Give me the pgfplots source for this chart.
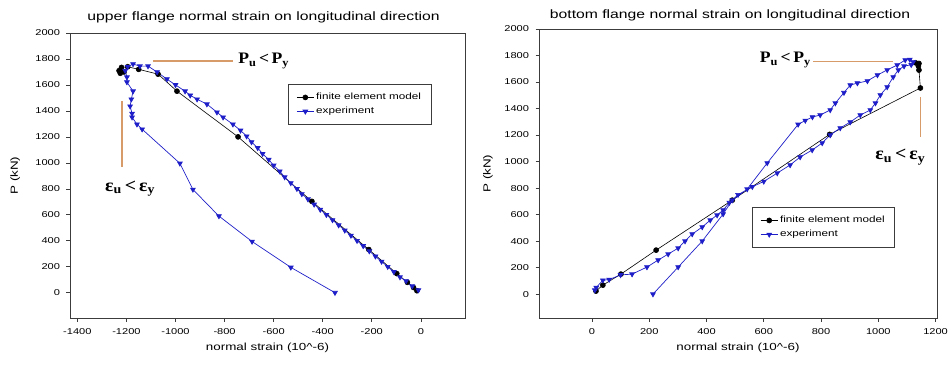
\documentclass[border=0pt]{standalone}
\usepackage{fontspec}
\setmainfont[FakeStretch=1.3]{Liberation Sans}
\newfontfamily\anno[FakeStretch=1.1]{Liberation Serif}
\usepackage{pgfplots}
\pgfplotsset{compat=1.18}
\definecolor{expblue}{RGB}{30,30,200}
\definecolor{annoorange}{RGB}{215,155,105}
\definecolor{axgray}{RGB}{60,60,60}

\pgfplotsset{
 mystyle/.style={
  scale only axis,
  clip=false,
  axis line style={axgray, line width=0.9pt},
  tick align=outside,
  xtick pos=bottom, ytick pos=left,
  major tick length=3.5pt,
  tick style={axgray, line width=0.6pt},
  /pgf/number format/assume math mode=true,
  /pgf/number format/1000 sep={},
  ticklabel style={font=\fontsize{8.5}{10}\selectfont},
  ytick={0,200,...,2000},
  yticklabel style={xshift=-3pt},
  xticklabel style={yshift=-4pt},
  xlabel style={font=\fontsize{10.3}{12}\selectfont, at={(0.5,0)}, anchor=center, yshift=-30pt},
  ylabel style={font=\fontsize{10.3}{12}\selectfont, anchor=center},
  legend style={draw=axgray, line width=0.8pt, font=\fontsize{9}{11}\selectfont, inner xsep=8pt, inner ysep=7pt, row sep=2pt},
  legend cell align=left,
 },
 femstyle/.style={black, line width=0.6pt, mark=*, mark size=2.5pt, mark options={solid, fill=black}},
 expstyle/.style={expblue, line width=0.7pt, mark=triangle*, mark size=2.7pt, mark options={solid, fill=expblue, rotate=180}},
}

\begin{document}
\begin{tikzpicture}[x=1pt,y=1pt]
\path[use as bounding box] (0,0) rectangle (950,370);

% ---------------- left axis ----------------
\begin{axis}[mystyle,
  at={(70pt,52pt)}, anchor=south west,
  width=395pt, height=285pt,
  xmin=-1430, xmax=180, ymin=-195, ymax=2000,
  xtick={-1400,-1200,...,0},
  xlabel={normal strain (10\^{}-6)},
  ylabel={P (kN)},
  ylabel style={at={(rel axis cs:-0.139,0.5)}},
  legend style={at={(rel axis cs:0.552,0.821)}, anchor=north west},
]
\addplot[femstyle] coordinates {
(-16,15) (-30,40) (-55,80) (-98,147) (-212,332) (-444,703) (-745,1200)
(-994,1552) (-1071,1683) (-1150,1720) (-1195,1740) (-1220,1735)
(-1230,1710) (-1225,1690) (-1210,1700)
};
\addlegendentry{finite element model}
\addplot[expstyle] coordinates {
(-10,20) (-35,50) (-60,90) (-85,120) (-110,160) (-135,200) (-160,240)
(-185,280) (-210,320) (-235,360) (-260,400) (-285,440) (-310,480)
(-335,520) (-360,560) (-385,600) (-410,640) (-435,680) (-460,720)
(-485,760) (-505,800) (-530,845) (-555,890) (-575,935) (-600,980)
(-620,1025) (-645,1070) (-665,1115) (-690,1160) (-710,1205) (-735,1250)
(-766,1297) (-806,1351) (-831,1390) (-872,1452) (-912,1490) (-940,1520)
(-961,1552) (-1000,1600) (-1035,1645) (-1075,1699) (-1112,1745)
(-1145,1745) (-1173,1761) (-1195,1740) (-1205,1710) (-1198,1660)
(-1198,1622) (-1173,1552) (-1180,1490) (-1185,1436) (-1177,1380)
(-1177,1351) (-1157,1297) (-1136,1259) (-982,996) (-929,795)
(-823,590) (-688,394) (-530,195) (-350,0)
};
\addlegendentry{experiment}
% title
\node[anchor=center, font=\fontsize{12.1}{14}\selectfont] at (rel axis cs:0.49,1.056)
  {upper flange normal strain on longitudinal direction};
% annotations
\draw[annoorange, line width=1.1pt] (axis cs:-1092,1784) -- (axis cs:-766,1784);
\node[anchor=west, inner sep=0pt] at (axis cs:-745,1784)
  {\anno\fontsize{16}{18}\selectfont\bfseries P\textsubscript{u}\,<\,P\textsubscript{y}};
\draw[annoorange, line width=1.1pt] (axis cs:-1218,1475) -- (axis cs:-1218,965);
\node[anchor=center, inner sep=0pt] at (axis cs:-1185,800)
  {\anno\fontsize{18}{20}\selectfont\bfseries ε\textsubscript{u}\,<\,ε\textsubscript{y}};
\end{axis}

% ---------------- right axis ----------------
\begin{axis}[mystyle,
  at={(539pt,52pt)}, anchor=south west,
  width=398pt, height=289pt,
  xmin=-185, xmax=1205, ymin=-180, ymax=2000,
  xtick={0,200,...,1200},
  xlabel={normal strain (10\^{}-6)},
  ylabel={P (kN)},
  ylabel style={at={(rel axis cs:-0.128,0.5)}},
  legend style={at={(rel axis cs:0.535,0.384)}, anchor=north west},
]
\addplot[femstyle] coordinates {
(14,23) (38,68) (101,151) (224,332) (490,709) (830,1205) (1147,1555)
(1142,1690) (1140,1720) (1130,1745) (1142,1740)
};
\addlegendentry{finite element model}
\addplot[expstyle] coordinates {
(213,0) (301,204) (385,400) (458,604) (490,709) (542,792) (612,989)
(720,1280) (745,1310) (770,1336) (797,1351) (832,1389) (850,1441)
(880,1520) (902,1577) (927,1592) (962,1608) (997,1653) (1031,1691)
(1066,1728) (1094,1766) (1110,1770) (1122,1751) (1115,1730) (1090,1720)
(1070,1691) (1052,1638) (1031,1562) (1007,1502) (990,1441) (972,1389)
(937,1351) (902,1298) (867,1253) (832,1200) (804,1140) (769,1087)
(727,1034) (692,974) (647,913) (600,850) (560,810) (510,750) (480,690)
(458,634) (437,596) (413,558) (385,506) (350,453) (325,400) (301,347)
(266,302) (231,257) (192,204) (140,151) (100,145) (60,110) (38,105)
(15,50) (10,30)
};
\addlegendentry{experiment}
% title
\node[anchor=center, font=\fontsize{12.1}{14}\selectfont] at (rel axis cs:0.48,1.048)
  {bottom flange normal strain on longitudinal direction};
% annotations
\draw[annoorange, line width=1.1pt] (axis cs:773,1758) -- (axis cs:1052,1758);
\node[anchor=east, inner sep=0pt] at (axis cs:765,1766)
  {\anno\fontsize{16}{18}\selectfont\bfseries P\textsubscript{u}\,<\,P\textsubscript{y}};
\draw[annoorange, line width=1.1pt] (axis cs:1147,1487) -- (axis cs:1147,1185);
\node[anchor=center, inner sep=0pt] at (axis cs:1077,1035)
  {\anno\fontsize{18}{20}\selectfont\bfseries ε\textsubscript{u}\,<\,ε\textsubscript{y}};
\end{axis}
\end{tikzpicture}
\end{document}
